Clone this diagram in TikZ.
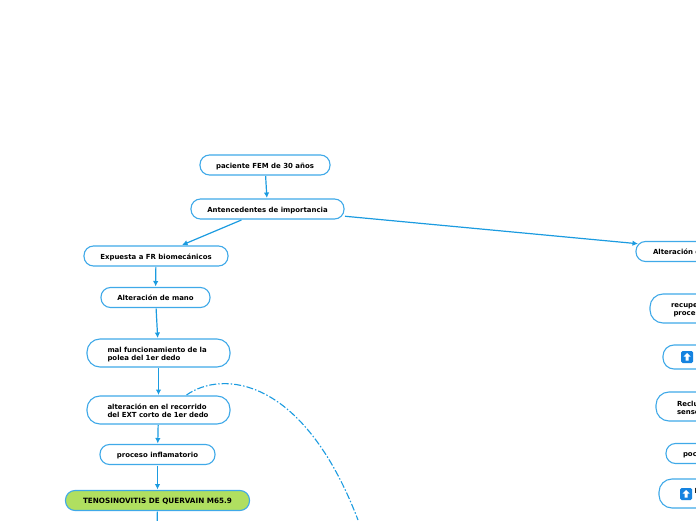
\documentclass[tikz,border=0pt]{standalone}
\usepackage{fontspec}
\setmainfont{DejaVu Sans}
\usetikzlibrary{arrows.meta}
\definecolor{mapblue}{HTML}{3FA9E8}
\definecolor{linkblue}{HTML}{1B9BE0}
\definecolor{mapgreen}{HTML}{B0DF60}
\definecolor{iconblue}{HTML}{1583E0}

\begin{document}
\begin{tikzpicture}[x=1pt,y=1pt,
    line join=round,
    every node/.style={outer sep=1pt},
    topic/.style={draw=mapblue,line width=1.1pt,fill=white,
      font=\fontsize{6.95}{8.2}\selectfont\bfseries,text=black,inner sep=0pt},
    pill/.style={topic,rounded corners=9.5pt,text height=6.5pt,text depth=0pt},
    wide/.style={topic,align=left,rounded corners=13pt,text depth=6pt},
    link/.style={draw=linkblue,line width=1.2pt,-{Latex[length=5.5pt,width=5.5pt]}},
    linkdash/.style={draw=linkblue,line width=1.1pt,dash pattern=on 7pt off 2pt on 1.5pt off 2pt},
    upicon/.style={fill=iconblue,rounded corners=1.5pt,minimum size=12pt,inner sep=0pt,outer sep=0pt},
    uparrow/.style={fill=white}]
  \clip (0,0) rectangle (696,520);
  % ---- left column ----
  \node[pill,minimum width=130pt,minimum height=20pt] (paciente) at (265,355) {paciente FEM de 30 años};
  \node[pill,minimum width=153pt,minimum height=20pt] (antecedentes) at (267.5,311) {Antencedentes de importancia};
  \node[pill,minimum width=144pt,minimum height=20pt] (expuesta) at (156,264) {Expuesta a FR biomecánicos};
  \node[pill,minimum width=109pt,minimum height=20pt] (mano) at (155.5,222.5) {Alteración de mano};
  \node[wide,text width=102pt,inner xsep=20.5pt,minimum height=28pt] (polea) at (158.5,167) {mal funcionamiento de la\\polea del 1er dedo};
  \node[wide,text width=102pt,inner xsep=20.5pt,minimum height=28pt] (recorrido) at (158.5,110) {alteración en el recorrido\\del EXT corto de 1er dedo};
  \node[pill,minimum width=115pt,minimum height=20pt] (inflamatorio) at (157.5,65.5) {proceso inflamatorio};
  \node[pill,fill=mapgreen,font=\fontsize{7.25}{8.2}\selectfont\bfseries,minimum width=184pt,minimum height=20pt] (quervain) at (157.5,19.5) {TENOSINOVITIS DE QUERVAIN M65.9};
  \coordinate (abajo) at (157,-20);
  % ---- right column, running off the edge ----
  \node[pill,align=left,text width=136pt,inner xsep=17pt,minimum height=20pt] (alteracion) at (721,268.5) {Alteración d};
  \node[wide,text width=100pt,inner xsep=21pt,minimum height=29pt] (recupera) at (721,211.5) {recupe\\\hspace*{2.5pt}proces};
  \node[wide,rounded corners=11pt,text width=100pt,inner xsep=18pt,minimum height=24pt] (flecha) at (731,163) {};
  \node[wide,text width=100pt,inner xsep=21pt,minimum height=29pt] (reclutamiento) at (727,113.5) {Reclu\\sense};
  \node[pill,align=left,text width=100pt,inner xsep=17pt,minimum height=20pt] (poco) at (733,66.5) {poc};
  \node[wide,text width=100pt,inner xsep=35.5pt,minimum height=29pt] (ultimo) at (744.5,26.5) {I\\\phantom{I}};
  \node[upicon] (iconouno) at (687,163) {};
  \node[upicon] (iconodos) at (686,26) {};
  \fill[uparrow] ([yshift=4pt]iconouno.center) -- ++(3.5,-3.5) -- ++(-2,0) -- ++(0,-4) -- ++(-3,0) -- ++(0,4) -- ++(-2,0) -- cycle;
  \fill[uparrow] ([yshift=4pt]iconodos.center) -- ++(3.5,-3.5) -- ++(-2,0) -- ++(0,-4) -- ++(-3,0) -- ++(0,4) -- ++(-2,0) -- cycle;
  % ---- connectors ----
  \draw[link] (paciente) -- (antecedentes);
  \draw[link] (antecedentes) -- (expuesta);
  \draw[link,shorten >=-3pt] (antecedentes) -- (alteracion);
  \draw[link] (expuesta) -- (mano);
  \draw[link] (mano) -- (polea);
  \draw[link] (polea) -- (recorrido);
  \draw[link] (recorrido) -- (inflamatorio);
  \draw[link] (inflamatorio) -- (quervain);
  \draw[link] (quervain) -- (abajo);
  \draw[linkdash] ([xshift=28pt]recorrido.north) .. controls (222,150) and (303,144) .. (358,0);
\end{tikzpicture}
\end{document}
